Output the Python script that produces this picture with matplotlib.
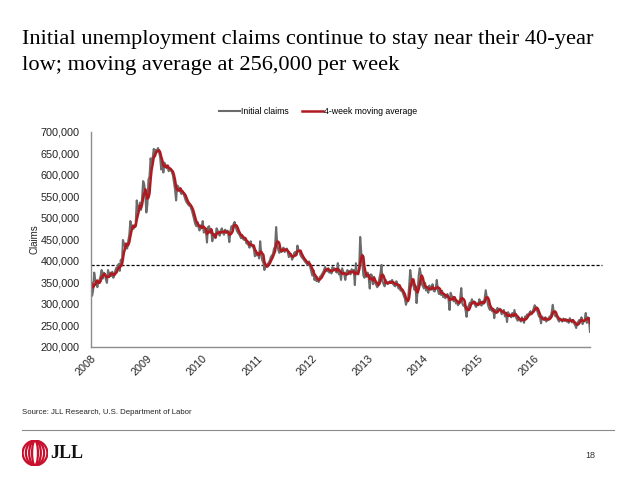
import matplotlib
matplotlib.use("Agg")
import matplotlib.pyplot as plt
import numpy as np
import pandas as pd
from matplotlib.patches import Ellipse
from matplotlib.ticker import FuncFormatter

# ---- Data (weekly initial claims, thousands) ----
claims_dec2007 = [345, 355, 350]
claims_2008 = [352, 318, 330, 372, 356, 348, 338, 352, 355, 364, 378, 358, 372,
               368, 356, 348, 378, 366, 372, 364, 374, 360, 368, 378, 384, 382,
               392, 376, 402, 388, 448, 440, 432, 438, 428, 446, 460, 492, 476,
               482, 474, 480, 486, 540, 515, 522, 535, 518, 545, 585, 578, 556]
claims_2009 = [512, 530, 588, 596, 638, 626, 640, 660, 645, 658, 655, 662, 652,
               640, 612, 630, 605, 628, 622, 615, 620, 608, 615, 610, 606, 598,
               582, 565, 540, 575, 572, 566, 560, 555, 562, 555, 548, 540, 535,
               532, 528, 530, 522, 515, 505, 495, 485, 480, 490, 478, 470, 482]
claims_2010 = [475, 492, 465, 470, 470, 442, 478, 480, 465, 470, 445, 458, 462,
               452, 475, 470, 462, 458, 470, 475, 465, 460, 472, 465, 470, 462,
               443, 468, 480, 478, 485, 490, 478, 470, 465, 462, 458, 452, 460,
               450, 448, 452, 440, 440, 436, 430, 445, 435, 432, 428, 410, 418]
claims_2011 = [412, 418, 405, 445, 415, 400, 395, 378, 390, 385, 392, 395, 400,
               408, 412, 415, 428, 432, 478, 440, 425, 418, 425, 420, 428, 430,
               420, 425, 428, 418, 408, 412, 415, 402, 408, 418, 420, 412, 435,
               425, 420, 412, 408, 405, 402, 398, 395, 392, 390, 398, 385, 375]
claims_2012 = [365, 378, 355, 362, 352, 358, 350, 362, 364, 368, 372, 378, 385,
               380, 375, 382, 372, 378, 370, 385, 378, 382, 375, 372, 394, 368,
               372, 355, 382, 375, 368, 355, 372, 378, 372, 375, 368, 380, 372,
               378, 343, 394, 370, 368, 380, 455, 420, 395, 365, 360, 372, 362]
claims_2013 = [372, 360, 335, 368, 366, 345, 362, 348, 344, 338, 342, 358, 370,
               390, 352, 345, 340, 355, 350, 345, 348, 352, 348, 355, 345, 342,
               340, 352, 345, 335, 338, 330, 332, 325, 318, 312, 297, 305, 310,
               340, 378, 360, 345, 342, 332, 340, 301, 330, 365, 382, 368, 345]
claims_2014 = [340, 335, 348, 330, 338, 325, 342, 332, 335, 345, 330, 328, 336,
               355, 332, 322, 328, 320, 330, 315, 322, 312, 318, 322, 310, 285,
               325, 318, 312, 305, 315, 300, 305, 296, 302, 312, 336, 300, 295,
               298, 285, 269, 290, 295, 302, 298, 310, 300, 305, 296, 292, 300]
claims_2015 = [298, 310, 302, 295, 305, 300, 312, 331, 315, 298, 290, 285, 292,
               282, 288, 266, 285, 278, 290, 284, 288, 282, 275, 280, 285, 270,
               278, 257, 280, 275, 272, 268, 278, 270, 285, 270, 265, 260, 268,
               262, 258, 268, 262, 255, 270, 268, 275, 272, 278, 282, 275, 280]
claims_2016 = [288, 296, 292, 285, 278, 270, 268, 254, 270, 265, 262, 268, 258,
               265, 262, 270, 268, 280, 297, 278, 272, 270, 268, 262, 258, 265,
               262, 258, 265, 260, 264, 258, 262, 255, 266, 260, 256, 262, 254,
               250, 243, 255, 258, 262, 260, 268, 252, 258, 262, 278, 255, 268]
claims_2017 = [262, 234]

year_labels = ["2008", "2009", "2010", "2011", "2012", "2013", "2014", "2015", "2016"]
reference_level = 390000

years = [claims_2008, claims_2009, claims_2010, claims_2011, claims_2012,
         claims_2013, claims_2014, claims_2015, claims_2016, claims_2017]
shown = np.concatenate([np.array(y, dtype=float) for y in years]) * 1000
full = np.concatenate([np.array(claims_dec2007, dtype=float) * 1000, shown])
ma = pd.Series(full).rolling(4).mean().to_numpy()[len(claims_dec2007):]
weeks = np.arange(len(shown))
tick_pos = [i * len(claims_2008) for i in range(len(year_labels))]

# ---- Figure ----
W, H = 638, 479
fig = plt.figure(figsize=(W / 100, H / 100), dpi=100)
sans = ['Liberation Sans', 'DejaVu Sans']

fig.text(22 / W, 1 - 30 / H,
         "Initial unemployment claims continue to stay near their 40-year\n"
         "low; moving average at 256,000 per week",
         family='Liberation Serif', fontsize=16.1, va='top', ha='left',
         linespacing=1.5, color='black')

ax = fig.add_axes([91 / W, 1 - 346.5 / H, (590 - 91) / W, (346.5 - 131.7) / H])
l1, = ax.plot(weeks, shown, color='#6b6b6b', lw=1.5, label='Initial claims')
l2, = ax.plot(weeks, ma, color='#b0191f', lw=1.8, label='4-week moving average')
ax.axhline(reference_level, xmin=0, xmax=1.024, color='black', lw=0.9,
           ls=(0, (2.5, 1.5)), clip_on=False, zorder=1)

ax.set_xlim(0, len(shown) - 1)
ax.set_ylim(200000, 700000)
ax.set_yticks(np.arange(200000, 700001, 50000))
ax.yaxis.set_major_formatter(FuncFormatter(lambda v, p: f"{int(v):,}"))
ax.set_xticks(tick_pos)
ax.set_xticklabels(year_labels, rotation=45, ha='right', va='top',
                   rotation_mode='anchor')
for lab in ax.get_xticklabels() + ax.get_yticklabels():
    lab.set_family(sans)
    lab.set_fontsize(7.8)
    lab.set_color('#222222')
ax.tick_params(axis='both', length=0)
ax.tick_params(axis='y', pad=8)
ax.tick_params(axis='x', pad=5)
for s in ['top', 'right']:
    ax.spines[s].set_visible(False)
for s in ['left', 'bottom']:
    ax.spines[s].set_color('#8c8c8c')
    ax.spines[s].set_linewidth(1.0)
ax.set_ylabel("Claims", family=sans, fontsize=7, labelpad=1, color='#222222')

leg = fig.legend(handles=[l1, l2], loc='center', bbox_to_anchor=(318 / W, 1 - 112 / H),
                 ncol=2, frameon=False, prop={'family': sans, 'size': 6.3},
                 handlelength=2.4, handletextpad=0.1, columnspacing=1.6)

fig.text(22 / W, 1 - 413 / H, "Source: JLL Research, U.S. Department of Labor",
         family=sans, fontsize=5.6, va='center', ha='left', color='#222222')
fig.add_artist(plt.Line2D([22 / W, 614 / W], [1 - 430 / H, 1 - 430 / H],
                          color='#8c8c8c', lw=0.8))

# JLL logo
lax = fig.add_axes([22 / W, 1 - 466 / H, 26 / W, 26 / H])
lax.set_xlim(-1, 1)
lax.set_ylim(-1, 1)
lax.axis('off')
for wdt in [1.9, 1.4, 0.9, 0.45]:
    lax.add_patch(Ellipse((0, 0), wdt, 1.9, fill=False, ec='#c8102e', lw=1.6))
fig.text(50 / W, 1 - 453 / H, "JLL", family='Liberation Serif', fontweight='bold',
         fontsize=13, va='center', ha='left', color='#111111')

fig.text(590 / W, 1 - 455 / H, "18", family=sans, fontsize=6.5, va='center',
         ha='center', color='#333333')

fig.savefig("out.png", dpi=100)
